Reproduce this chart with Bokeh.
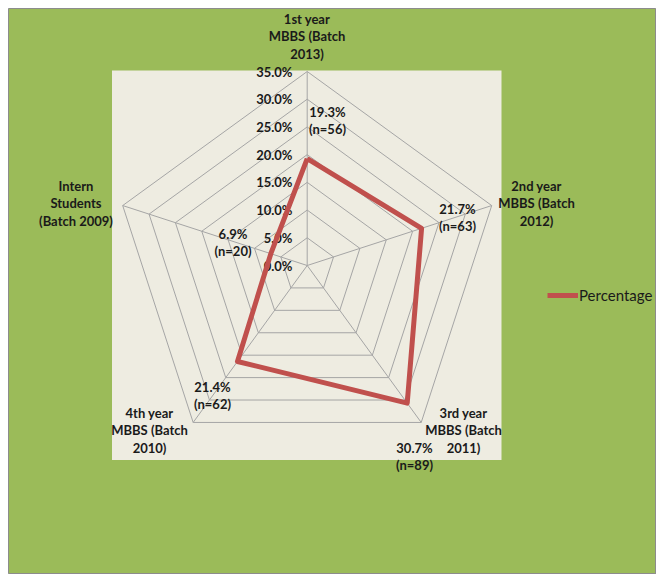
import math
from bokeh.plotting import figure
from bokeh.models import Range1d, ColumnDataSource, Legend, LegendItem
from bokeh.core.properties import value
from bokeh.embed import file_html
from bokeh.resources import INLINE

# ---------------- data ----------------
categories = ["1st year\nMBBS (Batch\n2013)",
              "2nd year\nMBBS (Batch\n2012)",
              "3rd year\nMBBS (Batch\n2011)",
              "4th year\nMBBS (Batch\n2010)",
              "Intern\nStudents\n(Batch 2009)"]
percentages = [19.3, 21.7, 30.7, 21.4, 6.9]
counts = [56, 63, 89, 62, 20]
ticks = [0, 5, 10, 15, 20, 25, 30, 35]
series_name = "Percentage"

# ---------------- layout ----------------
W, H = 656, 574          # whole figure
FX, FY = 8, 8            # frame (green area) origin on screen
CX, CY = 306.7, 265.0    # radar centre on screen
RMAX_PX = 194.0          # radius of the 35 % ring in px
PX = RMAX_PX / max(ticks)

def sx(x):
    return (x - CX) / PX

def sy(y):
    return (CY - y) / PX

GREEN = "#9BBB59"
BEIGE = "#EEECE1"
GRID = "#A5A5A5"
RED = "#C0504D"
FONT = value("Lato")

p = figure(width=W, height=H, output_backend="svg", toolbar_location=None,
           x_range=Range1d(sx(FX), sx(W)), y_range=Range1d(sy(H), sy(FY)),
           min_border_left=FX, min_border_top=FY, min_border_right=0, min_border_bottom=0,
           background_fill_color=GREEN, border_fill_color="white",
           outline_line_color="#8C8C8C", outline_line_width=1)
p.axis.visible = False
p.grid.visible = False

# plot area (beige)
p.quad(left=sx(111.5), right=sx(501), top=sy(70), bottom=sy(459.5),
       fill_color=BEIGE, line_color=None)

n = len(categories)
angles = [math.pi / 2 - 2 * math.pi * i / n for i in range(n)]

# rings
for t in ticks[1:]:
    xs = [t * math.cos(a) for a in angles] + [t * math.cos(angles[0])]
    ys = [t * math.sin(a) for a in angles] + [t * math.sin(angles[0])]
    p.line(xs, ys, line_color=GRID, line_width=1)
# spokes
rmax = max(ticks)
p.segment(x0=[0] * n, y0=[0] * n,
          x1=[rmax * math.cos(a) for a in angles],
          y1=[rmax * math.sin(a) for a in angles],
          line_color=GRID, line_width=1)

# tick labels
tsrc = ColumnDataSource(dict(x=[sx(292)] * len(ticks), y=ticks,
                             t=["%.1f%%" % t for t in ticks]))
p.text(x="x", y="y", text="t", source=tsrc, text_align="right", text_baseline="middle",
       text_font=FONT, text_font_style="bold", text_font_size="13px", text_color="#1a1a1a")

# series
vx = [v * math.cos(a) for v, a in zip(percentages, angles)]
vy = [v * math.sin(a) for v, a in zip(percentages, angles)]
r_series = p.line(vx + vx[:1], vy + vy[:1], line_color=RED, line_width=5, line_join="round")

# category labels (centre x, first-line y on screen)
cat_pos = [(306.5, 18), (536, 185), (463, 412), (149, 412), (75.5, 185)]
LH = 17.5
lx, ly, lt = [], [], []
for cat, (px_, py_) in zip(categories, cat_pos):
    for k, line in enumerate(cat.split("\n")):
        lx.append(sx(px_)); ly.append(sy(py_ + k * LH)); lt.append(line)
# data labels
dl_pos = [(327, 111), (457, 208), (414, 447), (212, 386), (232.5, 233)]
for v, c, (px_, py_) in zip(percentages, counts, dl_pos):
    for k, line in enumerate(["%.1f%%" % v, "(n=%d)" % c]):
        lx.append(sx(px_)); ly.append(sy(py_ + k * LH)); lt.append(line)
csrc = ColumnDataSource(dict(x=lx, y=ly, t=lt))
p.text(x="x", y="y", text="t", source=csrc, text_align="center", text_baseline="middle",
       text_font=FONT, text_font_style="bold", text_font_size="13px", text_color="#1a1a1a")

# legend
legend = Legend(items=[LegendItem(label=series_name, renderers=[r_series])],
                location=(547 - FX, H - 295 - 9), orientation="vertical",
                glyph_width=31, glyph_height=18, label_standoff=1, padding=0, margin=0,
                background_fill_alpha=0, border_line_alpha=0,
                label_text_font="Lato", label_text_font_size="15px", label_text_color="#1a1a1a",
                label_height=18)
p.add_layout(legend)

open("out.html", "w").write(file_html(p, INLINE))
